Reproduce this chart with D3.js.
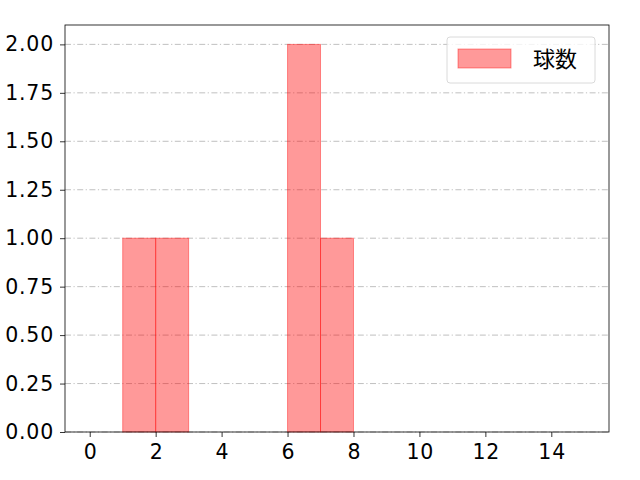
<!DOCTYPE html>
<html>
<head>
<meta charset="utf-8">
<script src="https://cdn.jsdelivr.net/npm/d3@7"></script>
<style>
  body { margin: 0; background: #fff; }
  svg { font-family: "Noto Sans CJK JP", "DejaVu Sans", sans-serif; }
</style>
</head>
<body>
<div id="chart"></div>
<script>
// histogram bins (start, end) and counts
const binStarts = [1, 2, 6, 7];
const binEnds = [2, 3, 7, 8];
const counts = [1, 1, 2, 1];
const xTicks = [0, 2, 4, 6, 8, 10, 12, 14];
const yTicks = [0, 0.25, 0.5, 0.75, 1.0, 1.25, 1.5, 1.75, 2.0];
const seriesName = "球数";

const width = 640, height = 480;
const margin = { left: 65, right: 31, top: 25, bottom: 48 };

const svg = d3.select("#chart").append("svg")
  .attr("width", width)
  .attr("height", height);

const x = d3.scaleLinear().domain([-0.75, 15.75]).range([margin.left, width - margin.right]);
const y = d3.scaleLinear().domain([0, 2.1]).range([height - margin.bottom, margin.top]);

// grid
svg.append("g")
  .selectAll("line")
  .data(yTicks)
  .join("line")
  .attr("x1", margin.left)
  .attr("x2", width - margin.right)
  .attr("y1", d => y(d))
  .attr("y2", d => y(d))
  .attr("stroke", "#b0b0b0")
  .attr("stroke-width", 0.8)
  .attr("stroke-dasharray", "6,2.5,1.2,2.5");

// bars
const bars = binStarts.map((s, i) => ({ x0: s, x1: binEnds[i], v: counts[i] }));
svg.append("g")
  .selectAll("rect")
  .data(bars)
  .join("rect")
  .attr("x", d => x(d.x0))
  .attr("width", d => x(d.x1) - x(d.x0))
  .attr("y", d => y(d.v))
  .attr("height", d => y(0) - y(d.v))
  .attr("fill", "rgba(255,0,0,0.4)")
  .attr("stroke", "rgba(255,0,0,0.4)")
  .attr("stroke-width", 1);

// axes
const xAxis = svg.append("g")
  .attr("transform", `translate(0,${height - margin.bottom})`)
  .call(d3.axisBottom(x).tickValues(xTicks).tickSize(5).tickPadding(7).tickFormat(d3.format("d")));
const yAxis = svg.append("g")
  .attr("transform", `translate(${margin.left},0)`)
  .call(d3.axisLeft(y).tickValues(yTicks).tickSize(5).tickPadding(6).tickFormat(d3.format(".2f")));

[xAxis, yAxis].forEach(a => {
  a.select(".domain").remove();
  a.selectAll("text").attr("font-size", 20.5).attr("fill", "#000")
    .attr("letter-spacing", 0.8)
    .attr("font-family", "\"DejaVu Sans\", sans-serif");
  a.selectAll("line").attr("stroke", "#000").attr("stroke-width", 0.8);
});
// compensate trailing letter-spacing on centred x labels
xAxis.selectAll("text").attr("dx", 0.4);

// frame
svg.append("rect")
  .attr("x", margin.left)
  .attr("y", margin.top)
  .attr("width", width - margin.left - margin.right)
  .attr("height", height - margin.top - margin.bottom)
  .attr("fill", "none")
  .attr("stroke", "#000")
  .attr("stroke-width", 0.8);

// legend
const lg = svg.append("g").attr("transform", "translate(447,37)");
lg.append("rect")
  .attr("width", 148).attr("height", 46).attr("rx", 3)
  .attr("fill", "rgba(255,255,255,0.8)")
  .attr("stroke", "#d0d0d0").attr("stroke-width", 0.8);
lg.append("rect")
  .attr("x", 11).attr("y", 12).attr("width", 53).attr("height", 19)
  .attr("fill", "rgba(255,0,0,0.4)")
  .attr("stroke", "rgba(255,0,0,0.4)");
lg.append("text")
  .attr("x", 86).attr("y", 30)
  .attr("font-size", 22)
  .text(seriesName);
</script>
</body>
</html>
